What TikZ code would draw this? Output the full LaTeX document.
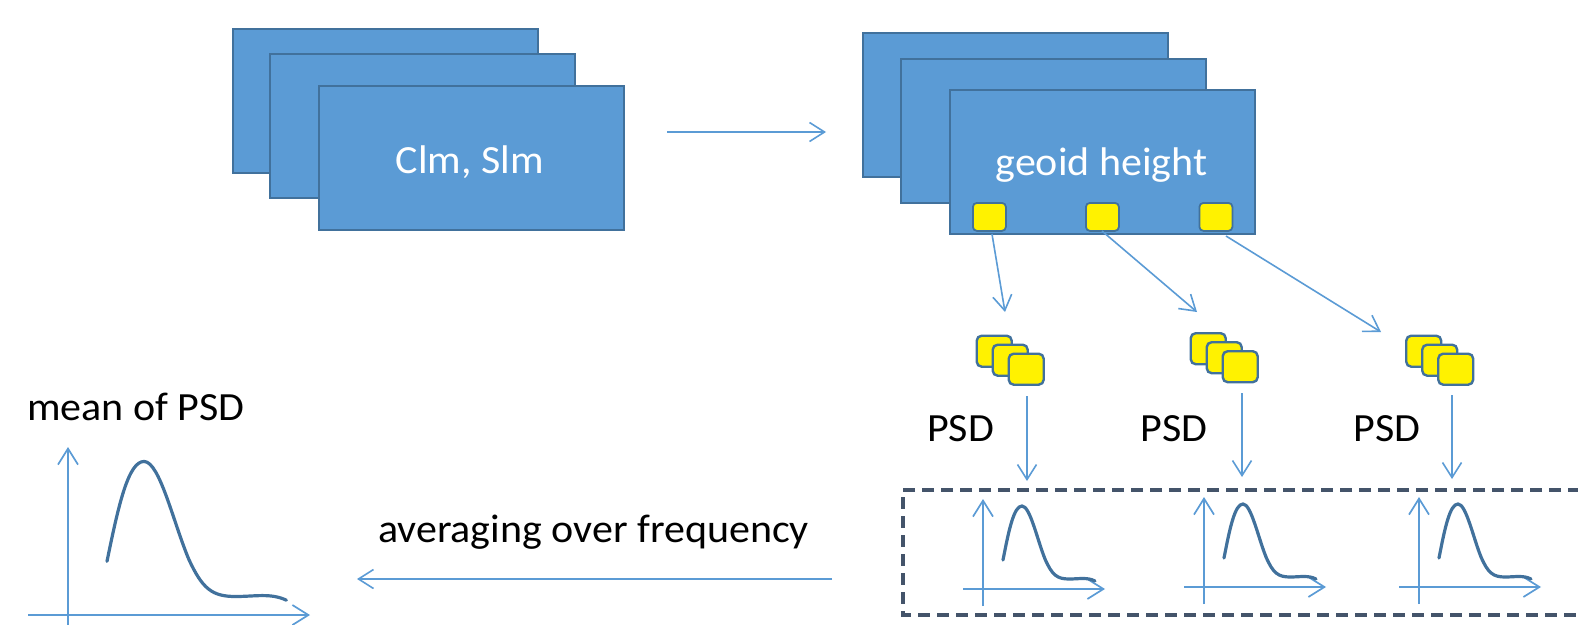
\documentclass[tikz,border=0pt]{standalone}
\usepackage{fontspec}
\setmainfont{Carlito}
\usetikzlibrary{arrows.meta}
\definecolor{cblue}{HTML}{5B9BD5}
\definecolor{cborder}{HTML}{41719C}
\definecolor{ccurve}{HTML}{41719C}
\definecolor{cdash}{HTML}{44546A}
\tikzset{
  bluebox/.style={draw=cborder, fill=cblue, line width=2pt, minimum width=305pt, minimum height=144pt, inner sep=0pt, anchor=north west},
  ysq/.style={draw=cborder, fill=yellow, line width=1.8pt, rounded corners=4pt, minimum width=33pt, minimum height=28pt, inner sep=0pt, anchor=north west},
  ysmall/.style={draw=cborder, fill=yellow, line width=2.4pt, rounded corners=5pt, minimum width=35pt, minimum height=31pt, inner sep=0pt, anchor=north west},
  conn/.style={draw=cblue, line width=1.6pt, -{Straight Barb[length=15pt,width=19pt]}},
  axis/.style={draw=cblue, line width=1.7pt, -{Straight Barb[length=16pt,width=20pt]}},
  curve/.style={draw=ccurve, line width=3.2pt, line cap=round},
  wlabel/.style={text=white, font=\fontsize{40}{48}\selectfont, xscale=1.05, inner sep=0pt, anchor=base},
  blabel/.style={text=black, font=\fontsize{40}{48}\selectfont, xscale=1.05, inner sep=0pt, anchor=base},
  psdcurve/.pic={\draw[curve] (20,-29) .. controls (26,-60) and (31,-83) .. (39,-83) .. controls (47,-83) and (54,-50) .. (62,-30) .. controls (69,-14) and (74,-10) .. (86,-10) .. controls (96,-10) and (104,-12) .. (112,-8);},
  miniplot/.pic={
    \coordinate (-vb) at (0,17); \coordinate (-vt) at (0,-90);
    \coordinate (-hl) at (-20,0); \coordinate (-hr) at (122,0);
    \draw[axis] (-vb) -- (-vt);
    \draw[axis] (-hl) -- (-hr);
    \pic {psdcurve};
  }
}
\begin{document}
\begin{tikzpicture}[x=1pt,y=-1pt]
\useasboundingbox (0,0) rectangle (1578,624);
% left stack
\node[bluebox] (L1) at (231.5,27.5) {};
\node[bluebox] (L2) at (269,53) {};
\node[bluebox] (L3) at (318,85) {};
\node[wlabel] (tL) at (470,173) {Clm, Slm};
% right stack
\node[bluebox] (R1) at (862,32) {};
\node[bluebox] (R2) at (900,58) {};
\node[bluebox] (R3) at (949,89) {};
\node[wlabel] (tR) at (1101.5,175) {geoid height};
\node[ysq] (s1) at (972,202) {};
\node[ysq] (s2) at (1085,202) {};
\node[ysq] (s3) at (1198.5,202) {};
% top arrow
\coordinate (ta) at (667,132);
\coordinate (tb) at (826,132);
\draw[conn] (ta) -- (tb);
% small stacks
\foreach \i/\x/\y in {1/975.5/334.5, 2/1189.5/332, 3/1405/334.5}{
  \node[ysmall] (a\i) at (\x,\y) {};
  \node[ysmall] (b\i) at ([shift={(16,9)}]a\i.north west) {};
  \node[ysmall] (c\i) at ([shift={(16,9)}]b\i.north west) {};
}
% arrows from squares
\coordinate (p1) at (992,234);
\coordinate (q1) at (1005,312);
\coordinate (p2) at (1102,231);
\coordinate (q2) at (1197,312);
\coordinate (p3) at (1226,236);
\coordinate (q3) at (1381,332);
\draw[conn] (p1) -- (q1);
\draw[conn] (p2) -- (q2);
\draw[conn] (p3) -- (q3);
% PSD labels
\node[blabel] (psd1) at (960.5,441.5) {PSD};
\node[blabel] (psd2) at (1174,441.5) {PSD};
\node[blabel] (psd3) at (1387,441.5) {PSD};
% vertical arrows
\coordinate (v1a) at (1027,396); \coordinate (v1b) at (1027,481);
\coordinate (v2a) at (1242,393); \coordinate (v2b) at (1242,477);
\coordinate (v3a) at (1452,395); \coordinate (v3b) at (1452,479);
\draw[conn] (v1a) -- (v1b);
\draw[conn] (v2a) -- (v2b);
\draw[conn] (v3a) -- (v3b);
% dashed box
\draw[cdash, line width=3.4pt, dash pattern=on 12pt off 7pt] (1580,490) -- (903,490) -- (903,615) -- (1580,615);
% mini plots
\pic (m1) at (983,589) {miniplot};
\pic (m2) at (1204,587) {miniplot};
\pic (m3) at (1419,587) {miniplot};
% bottom arrow
\coordinate (ba) at (832,579);
\coordinate (bb) at (357,579);
\draw[conn] (ba) -- (bb);
\node[blabel] (avg) at (593.5,542.5) {averaging over frequency};
% mean plot
\node[blabel] (mean) at (136,420) {mean of PSD};
\coordinate (Vb) at (68,630); \coordinate (Vt) at (68,447);
\coordinate (Hl) at (28,615); \coordinate (Hr) at (310,615);
\draw[axis] (Vb) -- (Vt);
\draw[axis] (Hl) -- (Hr);
\pic[xscale=1.95,yscale=1.85] at (68,615) {psdcurve};
\end{tikzpicture}
\end{document}
